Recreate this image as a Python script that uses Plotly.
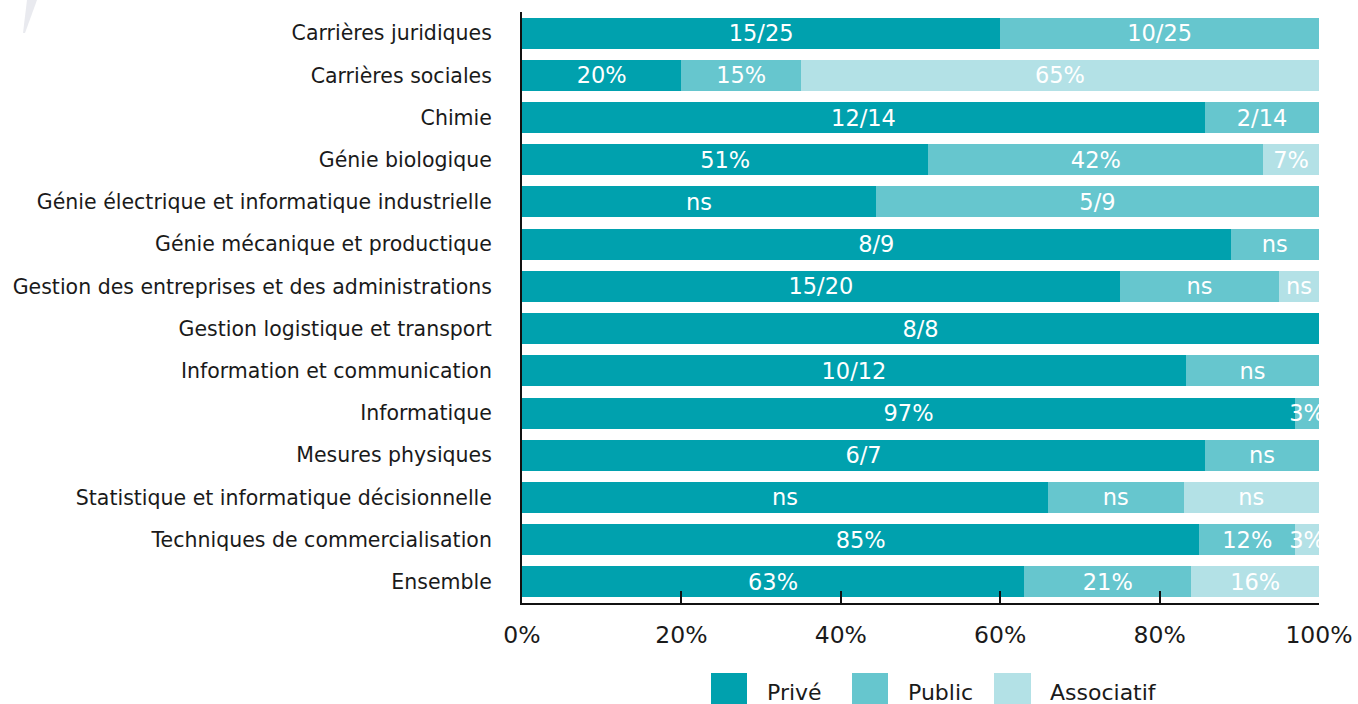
import plotly.graph_objects as go

categories = [
    "Carrières juridiques",
    "Carrières sociales",
    "Chimie",
    "Génie biologique",
    "Génie électrique et informatique industrielle",
    "Génie mécanique et productique",
    "Gestion des entreprises et des administrations",
    "Gestion logistique et transport",
    "Information et communication",
    "Informatique",
    "Mesures physiques",
    "Statistique et informatique décisionnelle",
    "Techniques de commercialisation",
    "Ensemble",
]

prive = [60, 20, 85.7, 51, 44.4, 88.9, 75, 100, 83.3, 97, 85.7, 66, 85, 63]
public = [40, 15, 14.3, 42, 55.6, 11.1, 20, 0, 16.7, 3, 14.3, 17, 12, 21]
associatif = [0, 65, 0, 7, 0, 0, 5, 0, 0, 0, 0, 17, 3, 16]

prive_labels = ["15/25", "20%", "12/14", "51%", "ns", "8/9", "15/20", "8/8",
                "10/12", "97%", "6/7", "ns", "85%", "63%"]
public_labels = ["10/25", "15%", "2/14", "42%", "5/9", "ns", "ns", "",
                 "ns", "3%", "ns", "ns", "12%", "21%"]
associatif_labels = ["", "65%", "", "7%", "", "", "ns", "", "", "", "",
                     "ns", "3%", "16%"]

series_names = ["Privé", "Public", "Associatif"]
colors = ["#00A1AE", "#66C6CE", "#B3E1E6"]
x_ticks = [0, 20, 40, 60, 80, 100]
x_tick_labels = ["0%", "20%", "40%", "60%", "80%", "100%"]

FONT = "DejaVu Sans, Verdana, sans-serif"

fig = go.Figure()
for name, vals, labs, col in zip(series_names,
                                 [prive, public, associatif],
                                 [prive_labels, public_labels, associatif_labels],
                                 colors):
    fig.add_trace(go.Bar(
        y=categories, x=vals, name=name, orientation="h",
        marker=dict(color=col, line=dict(width=0)),
        text=labs, textposition="inside", insidetextanchor="middle",
        textangle=0, constraintext="none", cliponaxis=False,
        textfont=dict(family=FONT, size=22.5, color="white"),
        showlegend=False,
    ))

fig.update_layout(
    barmode="stack",
    bargap=0.265,
    width=1358, height=704,
    margin=dict(l=522, r=39, t=12, b=101),
    paper_bgcolor="white", plot_bgcolor="white",
    font=dict(family=FONT, color="#1a1a1a"),
)

fig.update_yaxes(
    categoryorder="array", categoryarray=categories, autorange="reversed",
    showline=True, linecolor="#111111", linewidth=2, layer="below traces",
    ticks="", showgrid=False, zeroline=False, automargin=False,
    tickfont=dict(family=FONT, size=20.5, color="#1a1a1a"),
    ticklabelstandoff=24,
)

fig.update_xaxes(
    range=[0, 100], tickmode="array", tickvals=x_ticks, ticktext=x_tick_labels,
    showline=True, linecolor="#111111", linewidth=2,
    ticks="inside", ticklen=12, tickwidth=2, tickcolor="#111111",
    showgrid=False, zeroline=False, automargin=False,
    tickfont=dict(family=FONT, size=23.5, color="#1a1a1a"),
    ticklabelstandoff=10,
)

# custom legend (large square swatches)
x0, x1 = 522, 1319
y_bot, y_top = 603, 12
def px_x(p):
    return (p - x0) / (x1 - x0)
def px_y(p):
    return (y_bot - p) / (y_bot - y_top)

legend_boxes = [(711, 747), (852, 888), (994, 1031)]
legend_text_x = [765, 906, 1048]
for (bx0, bx1), tx, name, col in zip(legend_boxes, legend_text_x, series_names, colors):
    fig.add_shape(type="rect", xref="paper", yref="paper",
                  x0=px_x(bx0), x1=px_x(bx1), y0=px_y(673), y1=px_y(712),
                  fillcolor=col, line=dict(width=0), layer="above")
    fig.add_annotation(xref="paper", yref="paper", x=px_x(tx), y=px_y(692),
                       text=name, showarrow=False, xanchor="left", yanchor="middle",
                       font=dict(family=FONT, size=22, color="#1a1a1a"))

# faint decorative swoosh at top-left
fig.add_shape(type="path", xref="paper", yref="paper",
              path=f"M {px_x(27)},{px_y(0)} L {px_x(37)},{px_y(0)} L {px_x(25)},{px_y(33)} L {px_x(23)},{px_y(33)} Z",
              fillcolor="rgba(215,217,225,0.55)", line=dict(width=0), layer="above")

fig.write_html(
    "out.html",
    config={"displayModeBar": False},
    post_script="document.body.style.margin='0px';document.body.style.overflow='hidden';",
)
